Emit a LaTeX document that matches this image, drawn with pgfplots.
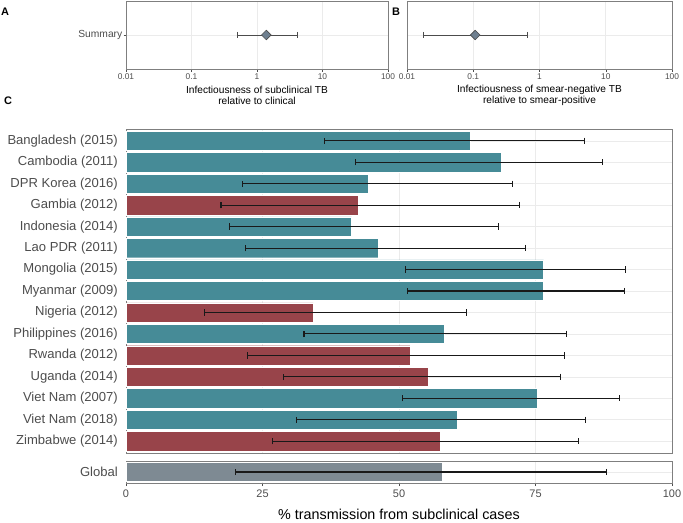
\documentclass[border=0pt]{standalone}
\usepackage{fontspec}
\setmainfont{Liberation Sans}
\usepackage{pgfplots}
\pgfplotsset{compat=1.18}
\usepackage{pgfplotstable}
\definecolor{teal1}{HTML}{468B97}
\definecolor{red1}{HTML}{98444A}
\definecolor{gray1}{HTML}{7E8A93}
\definecolor{gridc}{HTML}{EBEBEB}
\definecolor{framec}{HTML}{7F7F7F}
\definecolor{txt}{HTML}{4D4D4D}
\definecolor{pt}{HTML}{6F8090}

\pgfplotstableread{
i v lo hi
1 63.1 36.3 84.0
2 68.7 42.0 87.3
3 44.4 21.4 70.8
5 41.3 19.0 68.3
6 46.2 21.9 73.2
7 76.5 51.2 91.5
8 76.5 51.6 91.3
10 58.2 32.6 80.6
13 75.4 50.6 90.4
14 60.6 31.2 84.1
}\tealdata
\pgfplotstableread{
i v lo hi
4 42.5 17.4 72.1
9 34.3 14.4 62.4
11 52.0 22.2 80.3
12 55.4 28.8 79.5
15 57.5 26.9 82.9
}\reddata
\pgfplotstableread{
i v lo hi
1 58.0 20.0 88.0
}\globaldata

\pgfplotsset{
  common/.style={
    scale only axis,
    anchor=south west,
    axis line style={framec, line width=0.6bp},
    grid style={gridc, line width=0.6bp},
    /pgf/number format/assume math mode=true,
    tick style={draw=framec!60!black, line width=0.5bp},
    xtick pos=bottom, ytick pos=left,
    minor tick num=0,
  },
  barerr/.style={
    error bars/.cd, x dir=both, x explicit,
    error bar style={black!90, line width=1.1bp},
    error mark options={black!90, line width=1.1bp, mark size=3.2bp, rotate=90},
  },
}

\begin{document}
\begin{tikzpicture}
\useasboundingbox (0,0) rectangle (683bp,-523bp);

% Panel A
\begin{axis}[common,
  at={(126bp,-69bp)}, width=262bp, height=68bp,
  xmode=log, xmin=0.01, xmax=100, ymin=0.4, ymax=1.6,
  xtick={0.01,0.1,1,10,100}, xticklabels={0.01,0.1,1,10,100},
  xminorticks=false,
  ytick={1}, yticklabels={Summary},
  xmajorgrids, ymajorgrids, tick align=outside, major tick length=2.5bp,
  xticklabel style={font=\fontsize{8.4}{10}\selectfont, text=txt, inner sep=0pt, yshift=-2bp},
  yticklabel style={font=\fontsize{10.3}{12}\selectfont, text=txt, inner sep=0pt, xshift=-1bp},
  ]
\addplot[color=black!70, line width=0.9bp, mark=|, mark size=3.2bp, mark options={solid}] coordinates {(0.50,1) (4.08,1)};
\addplot[only marks, mark=square*, mark size=3.4bp, mark options={rotate=45, fill=pt, draw=black!70, line width=0.6bp}] coordinates {(1.39,1)};
\end{axis}

% Panel B
\begin{axis}[common,
  at={(407bp,-69bp)}, width=265bp, height=68bp,
  xmode=log, xmin=0.01, xmax=100, ymin=0.4, ymax=1.6,
  xtick={0.01,0.1,1,10,100}, xticklabels={0.01,0.1,1,10,100},
  xminorticks=false,
  ytick={1}, yticklabels={}, y tick style={draw=none},
  xmajorgrids, ymajorgrids, tick align=outside, major tick length=2.5bp,
  xticklabel style={font=\fontsize{8.4}{10}\selectfont, text=txt, inner sep=0pt, yshift=-2bp},
  ]
\addplot[color=black!70, line width=0.9bp, mark=|, mark size=3.2bp, mark options={solid}] coordinates {(0.018,1) (0.66,1)};
\addplot[only marks, mark=square*, mark size=3.4bp, mark options={rotate=45, fill=pt, draw=black!70, line width=0.6bp}] coordinates {(0.107,1)};
\end{axis}

% Panel C main
\begin{axis}[common,
  at={(126bp,-453bp)}, width=546bp, height=324bp,
  xmin=0, xmax=100, ymin=0.45, ymax=15.55, y dir=reverse,
  xtick={25,50,75}, xticklabels={},
  ytick={1,...,15},
  yticklabels={Bangladesh (2015),Cambodia (2011),DPR Korea (2016),Gambia (2012),Indonesia (2014),Lao PDR (2011),Mongolia (2015),Myanmar (2009),Nigeria (2012),Philippines (2016),Rwanda (2012),Uganda (2014),Viet Nam (2007),Viet Nam (2018),Zimbabwe (2014)},
  xmajorgrids, ymajorgrids, major tick length=0pt,
  yticklabel style={font=\fontsize{13.1}{15}\selectfont, text=txt, inner sep=0pt, xshift=-8bp},
  ]
\addplot[xbar, bar shift=0pt, bar width=0.9, fill=teal1, draw=white, line width=0.4bp, barerr]
  table[x=v, y=i, x error plus expr=\thisrow{hi}-\thisrow{v}, x error minus expr=\thisrow{v}-\thisrow{lo}] {\tealdata};
\addplot[xbar, bar shift=0pt, bar width=0.9, fill=red1, draw=white, line width=0.4bp, barerr]
  table[x=v, y=i, x error plus expr=\thisrow{hi}-\thisrow{v}, x error minus expr=\thisrow{v}-\thisrow{lo}] {\reddata};
\end{axis}

% Panel C global
\begin{axis}[common,
  at={(126bp,-483bp)}, width=546bp, height=22bp,
  xmin=0, xmax=100, ymin=0.48, ymax=1.52,
  xtick={0,25,50,75,100}, xticklabels={0,25,50,75,100},
  ytick={1}, yticklabels={Global},
  xmajorgrids, ymajorgrids, tick align=outside,
  x tick style={draw=framec!60!black, line width=0.5bp}, y tick style={draw=none},
  major tick length=3bp,
  xticklabel style={font=\fontsize{11}{13}\selectfont, text=txt, inner sep=0pt, yshift=-3.5bp},
  yticklabel style={font=\fontsize{13.1}{15}\selectfont, text=txt, inner sep=0pt, xshift=-5bp},
  ]
\addplot[xbar, bar shift=0pt, bar width=0.9, fill=gray1, draw=white, line width=0.4bp, barerr]
  table[x=v, y=i, x error plus expr=\thisrow{hi}-\thisrow{v}, x error minus expr=\thisrow{v}-\thisrow{lo}] {\globaldata};
\end{axis}

% Titles
\node[align=center, font=\fontsize{10.2}{11.5}\selectfont] at (257bp,-95.5bp) {Infectiousness of subclinical TB\\relative to clinical};
\node[align=center, font=\fontsize{10.2}{11.5}\selectfont] at (539.5bp,-95.5bp) {Infectiousness of smear-negative TB\\relative to smear-positive};
\node[font=\fontsize{14.4}{16}\selectfont] at (399bp,-514bp) {\% transmission from subclinical cases};

% Panel letters
\node[font=\bfseries\fontsize{11}{12}\selectfont] at (5bp,-12bp) {A};
\node[font=\bfseries\fontsize{11}{12}\selectfont] at (396bp,-12bp) {B};
\node[font=\bfseries\fontsize{11}{12}\selectfont] at (8bp,-101bp) {C};
\end{tikzpicture}
\end{document}
